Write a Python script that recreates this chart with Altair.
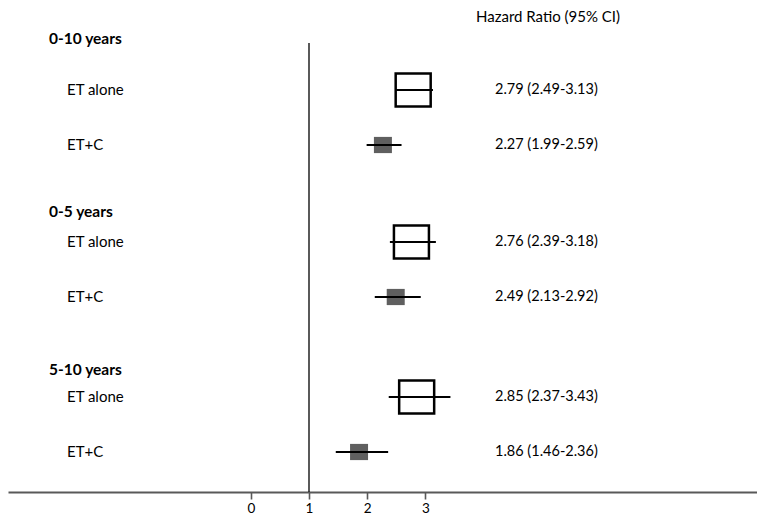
import altair as alt
import pandas as pd

# ---- data ----
groups = ["0-10 years", "0-5 years", "5-10 years"]
treatments = ["ET alone", "ET+C"]
hr = [2.79, 2.27, 2.76, 2.49, 2.85, 1.86]
lo = [2.49, 1.99, 2.39, 2.13, 2.37, 1.46]
hi = [3.13, 2.59, 3.18, 2.92, 3.43, 2.36]
hr_labels = ["2.79 (2.49-3.13)", "2.27 (1.99-2.59)", "2.76 (2.39-3.18)",
             "2.49 (2.13-2.92)", "2.85 (2.37-3.43)", "1.86 (1.46-2.36)"]
tick_values = [0, 1, 2, 3]
ref_value = 1
column_title = "Hazard Ratio (95% CI)"

# ---- layout (chart pixel units along y) ----
W, H = 749, 484
UNIT = 58.2
ORIGIN = 301  # pixel of value 1
group_base = [82, 234, 389]
row_step = 55
header_gap = [51, 30, 27]

rows = []
for g, grp in enumerate(groups):
    for t, trt in enumerate(treatments):
        i = g * 2 + t
        rows.append(dict(group=grp, treatment=trt, hr=hr[i], lo=lo[i], hi=hi[i],
                         label=hr_labels[i], pos=group_base[g] + t * row_step))
df = pd.DataFrame(rows)
hdr = pd.DataFrame(dict(group=groups,
                        pos=[group_base[g] - header_gap[g] for g in range(3)]))

x_scale = alt.Scale(domain=[1 - ORIGIN / UNIT, 1 + (W - ORIGIN) / UNIT], nice=False, zero=False)
y_scale = alt.Scale(domain=[0, H], reverse=True, nice=False, zero=False)
x_axis = alt.Axis(values=tick_values, title=None, grid=False, format="d")

x_enc = alt.X("hr:Q", scale=x_scale, axis=x_axis)
y_enc = alt.Y("pos:Q", scale=y_scale, axis=None)

base = alt.Chart(df)

ref = alt.Chart(pd.DataFrame({"v": [ref_value], "top": [35], "bot": [H]})).mark_rule(
    color="black", strokeWidth=1.3).encode(
    x=alt.X("v:Q", scale=x_scale, axis=x_axis),
    y=alt.Y("top:Q", scale=y_scale, axis=None), y2="bot:Q")

open_box = base.transform_filter(alt.datum.treatment == "ET alone").mark_point(
    shape="M-1,-0.943L1,-0.943L1,0.943L-1,0.943Z", filled=False, size=1225,
    stroke="black", strokeWidth=2.5, opacity=1).encode(x=x_enc, y=y_enc)

gray_sq = base.transform_filter(alt.datum.treatment == "ET+C").mark_point(
    shape="M-1,-0.9L1,-0.9L1,0.9L-1,0.9Z", filled=True, size=324,
    color="#5f5f5f", opacity=1, strokeWidth=0).encode(x=x_enc, y=y_enc)

ci = base.mark_rule(color="black", strokeWidth=2.2).encode(
    x=alt.X("lo:Q", scale=x_scale, axis=x_axis), x2="hi:Q", y=y_enc)

row_lbl = base.mark_text(align="left", baseline="middle", font="Lato", fontSize=15,
                         color="black").encode(x=alt.value(59), y=y_enc, text="treatment:N")

hr_lbl = base.mark_text(align="left", baseline="middle", font="Lato", fontSize=14.5,
                        color="black").encode(x=alt.value(487), y=y_enc, text="label:N")

hdr_lbl = alt.Chart(hdr).mark_text(align="left", baseline="middle", font="Lato",
                                   fontSize=15.5, fontWeight="bold", color="black").encode(
    x=alt.value(41), y=alt.Y("pos:Q", scale=y_scale, axis=None), text="group:N")

title_lbl = alt.Chart(pd.DataFrame({"t": [column_title], "pos": [2]})).mark_text(
    align="left", baseline="top", font="Lato", fontSize=15, color="black").encode(
    x=alt.value(468), y=alt.Y("pos:Q", scale=y_scale, axis=None), text="t:N")

chart = alt.layer(ref, open_box, gray_sq, ci, row_lbl, hr_lbl, hdr_lbl, title_lbl).properties(
    width=W, height=H,
    padding={"left": 0, "top": 0, "right": 0, "bottom": 26},
    autosize=alt.AutoSizeParams(type="none"),
).configure_view(stroke=None).configure_axis(
    labelFont="Lato", labelFontSize=13.5, labelColor="black",
    domainColor="#595959", domainWidth=2, tickColor="#595959", tickWidth=1.6,
    tickSize=7, labelPadding=2,
)

chart.save("out.html", embed_options={"renderer": "svg", "actions": False})
